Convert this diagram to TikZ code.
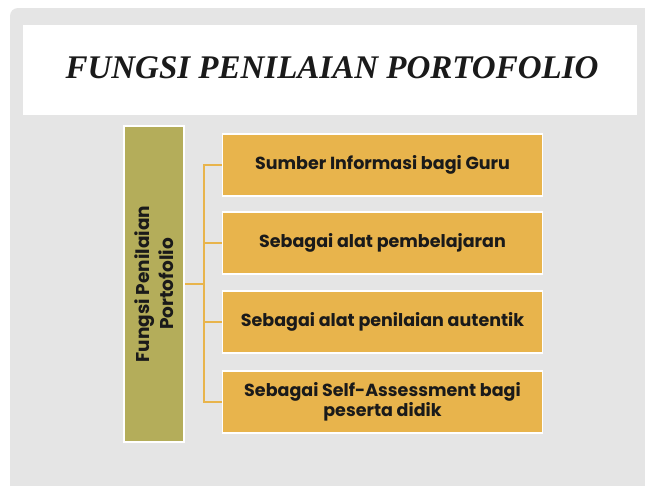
\documentclass[tikz,border=0pt]{standalone}
\usepackage{fontspec}
\setmainfont{Liberation Serif}
\newfontfamily\gothic{Poppins}
\definecolor{panelgray}{HTML}{E5E5E5}
\definecolor{olive}{HTML}{B4AD5A}
\definecolor{gold}{HTML}{E8B44C}
\definecolor{inktext}{HTML}{1A1A1A}
\tikzset{
  px/.style={x=1pt,y=-1pt},
  itembox/.style={draw=white,line width=1.6pt,fill=gold,minimum width=320pt,minimum height=62pt,
    align=center,font=\gothic\bfseries\fontsize{17.5}{20}\selectfont,text=inktext,inner sep=0pt},
  mainbox/.style={draw=white,line width=1.6pt,fill=olive,minimum width=316pt,minimum height=60pt,
    align=center,font=\gothic\bfseries\fontsize{18.5}{24}\selectfont,text=inktext,inner sep=0pt},
  conn/.style={draw=gold,line width=1.6pt},
}
\begin{document}
\begin{tikzpicture}[px]
\useasboundingbox (0,0) rectangle (645,485);
\fill[white] (0,0) rectangle (645,485);
\fill[panelgray,rounded corners=8pt] (10,8) -- (660,8) -- (660,500) -- (10,500) -- cycle;
\fill[white] (23,25) rectangle (637,115);
\node[font=\bfseries\itshape\fontsize{33}{35}\selectfont,text=inktext] (title) at (332,68) {FUNGSI PENILAIAN PORTOFOLIO};
\node[mainbox,rotate=90] (main) at (154,284) {Fungsi Penilaian\\Portofolio};
\node[itembox] (b1) at (382.5,165) {Sumber Informasi bagi Guru};
\node[itembox] (b2) at (382.5,243) {Sebagai alat pembelajaran};
\node[itembox] (b3) at (382.5,322) {Sebagai alat penilaian autentik};
\node[itembox] (b4) at (382.5,402) {Sebagai Self-Assessment bagi\\peserta didik};
\coordinate (j) at (204,284);
\draw[conn] (main.south) -- (j);
\draw[conn] (j) |- (b1.west);
\draw[conn] (j) |- (b2.west);
\draw[conn] (j) |- (b3.west);
\draw[conn] (j) |- (b4.west);
\end{tikzpicture}
\end{document}
